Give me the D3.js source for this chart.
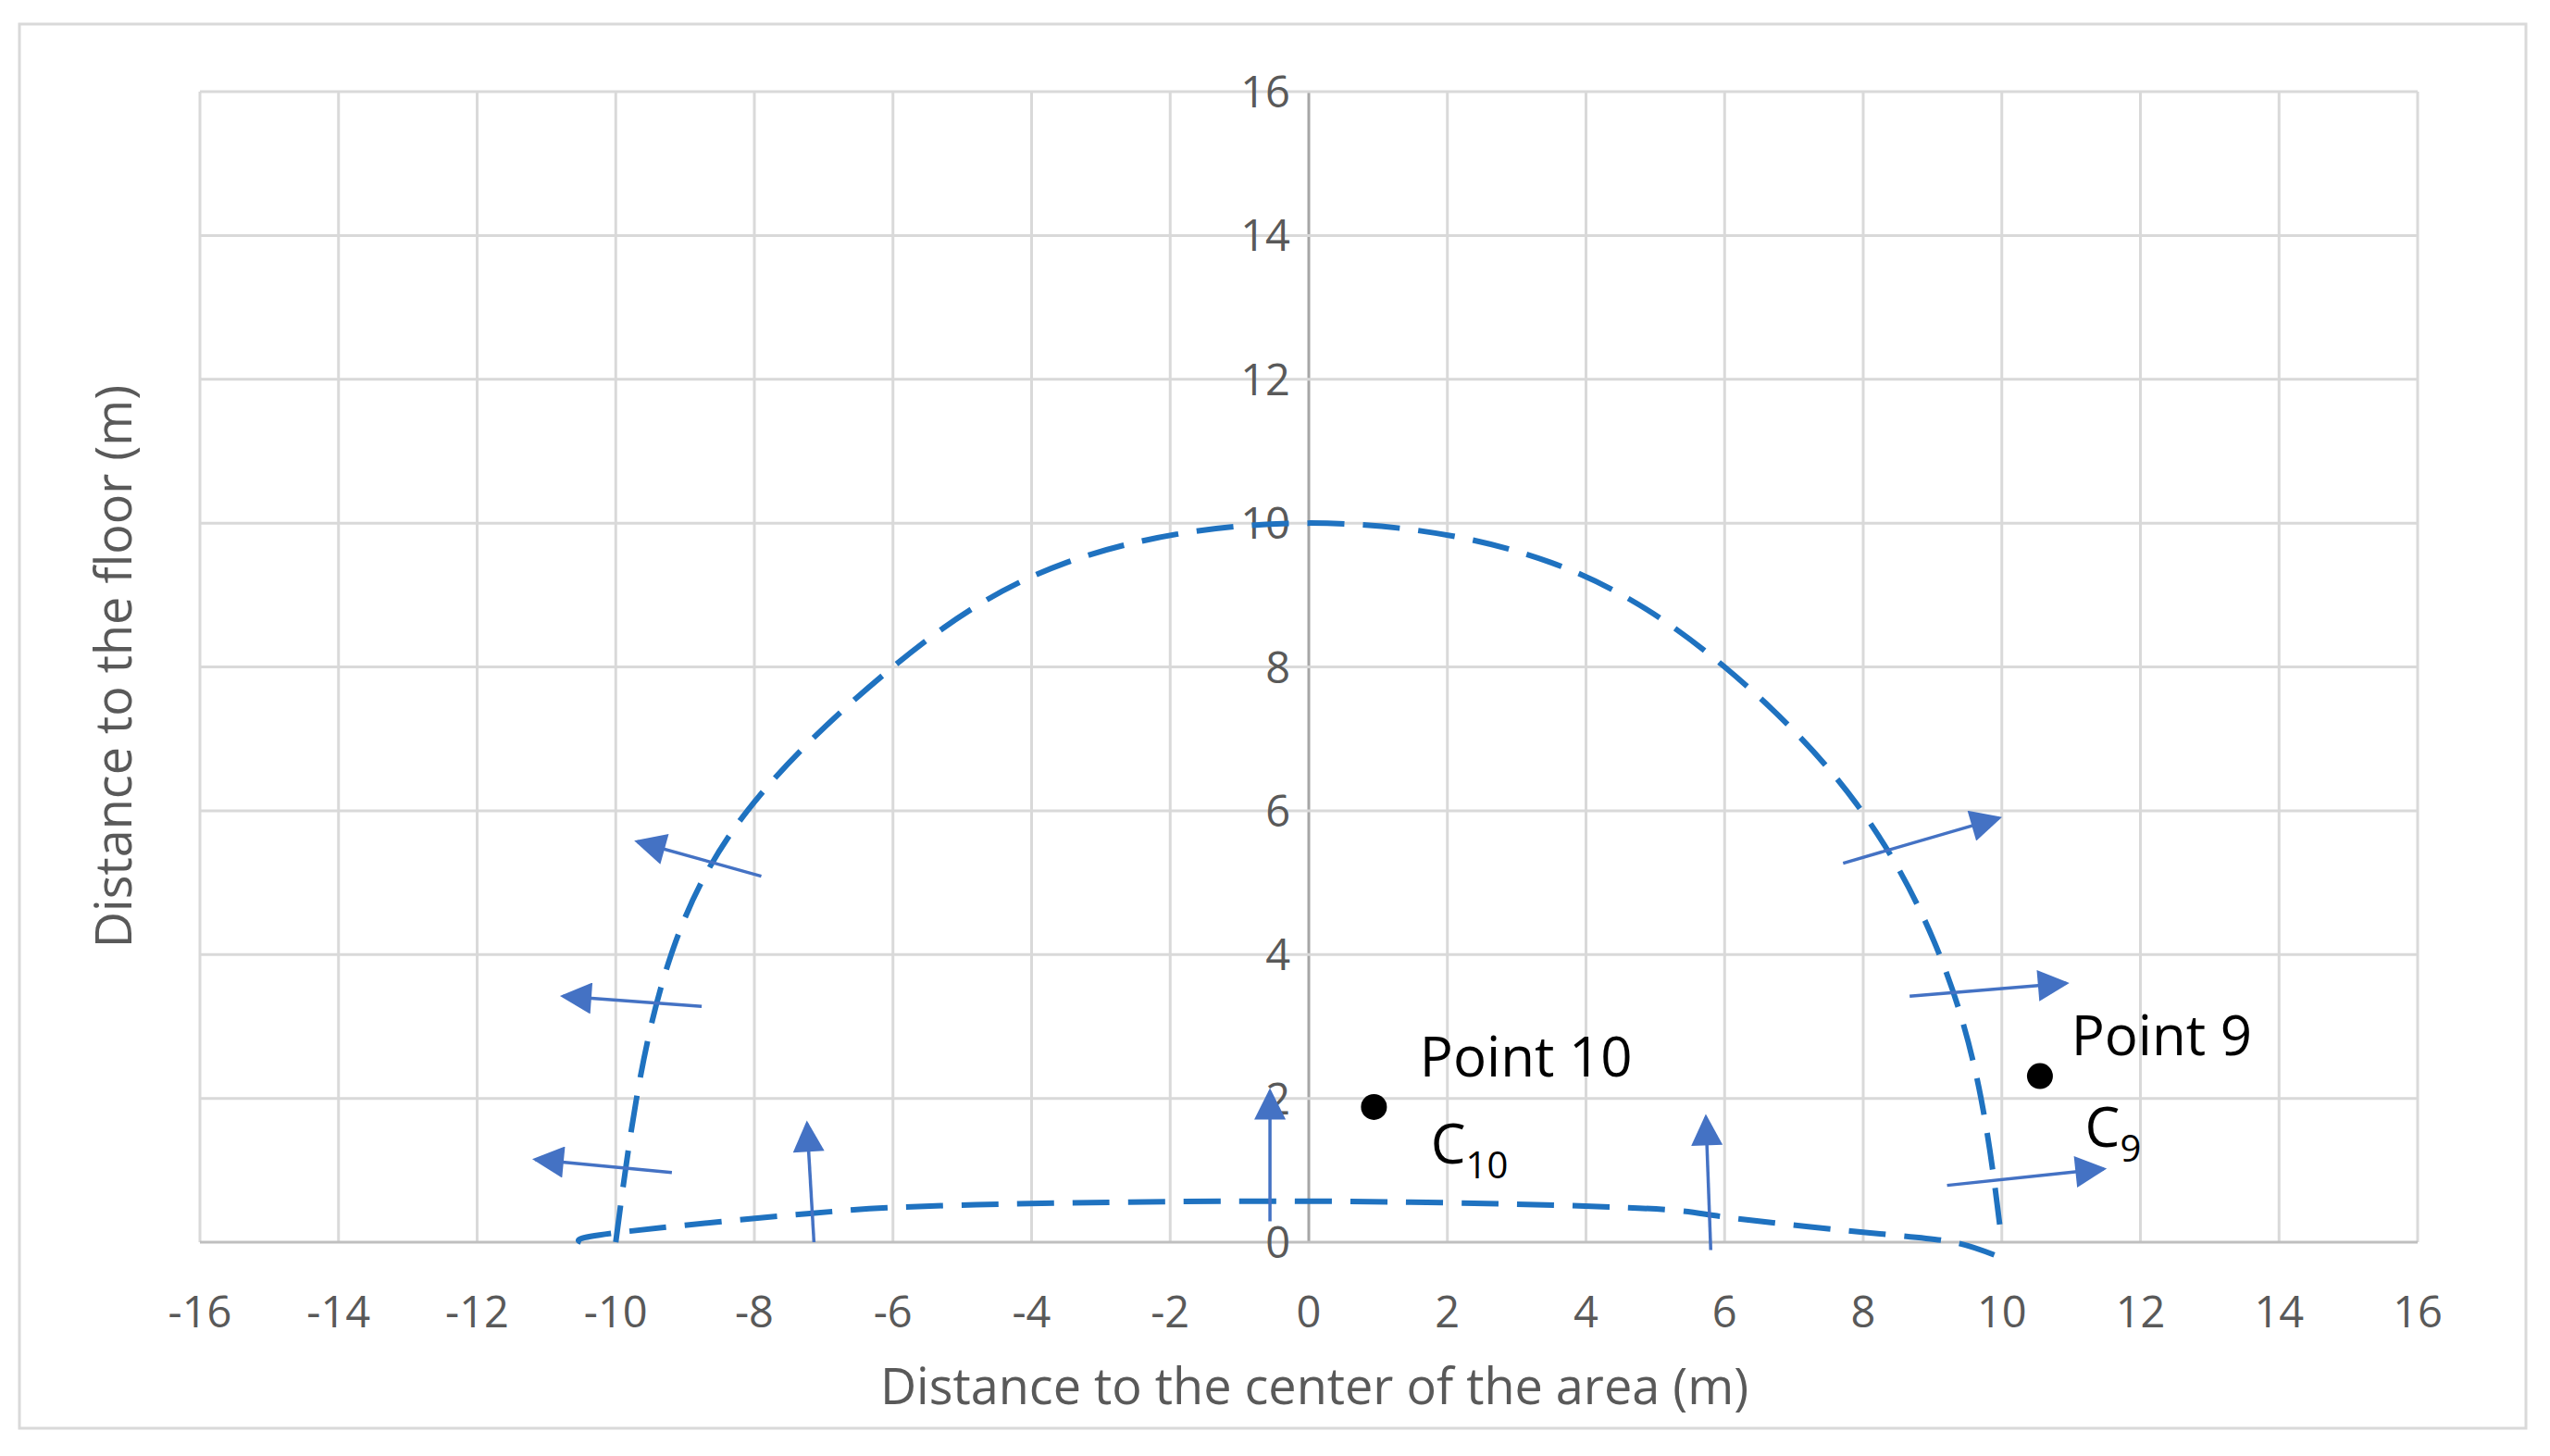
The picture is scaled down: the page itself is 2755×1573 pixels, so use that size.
<!DOCTYPE html>
<html><head><meta charset="utf-8">
<script src="https://cdn.jsdelivr.net/npm/d3@7"></script>
<style>body{margin:0;background:#fff}</style></head>
<body><svg id="c" width="2755" height="1573"></svg>
<script>
const xTicks = [-16,-14,-12,-10,-8,-6,-4,-2,0,2,4,6,8,10,12,14,16];
const yTicks = [0,2,4,6,8,10,12,14,16];
const upperArc = [[-10,0],[-9.7,2],[-9.2,4],[-8.1,6],[-6,8],[-3.5,9.45],[0,10],[3.5,9.45],[6,8],[7.9,6.1],[9.1,4],[9.7,2],[10,0]];
const lowerArc = [[-10.5,0],[-10,0.13],[-7.2,0.4],[-4.8,0.52],[0,0.57],[4.6,0.48],[6,0.35],[8.1,0.13],[9.3,0],[9.95,-0.2]];
const arrows = [
 [[-7.9,5.09],[-9.69,5.57]],
 [[-8.76,3.28],[-10.76,3.42]],
 [[-9.19,0.97],[-11.16,1.15]],
 [[-7.14,0],[-7.24,1.65]],
 [[-0.56,0.29],[-0.56,2.1]],
 [[5.8,-0.11],[5.73,1.74]],
 [[7.71,5.27],[9.96,5.9]],
 [[8.67,3.42],[10.93,3.6]],
 [[9.21,0.79],[11.47,1.02]]
];
const points = [{name:"Point 10",sub:"10",x:0.94,y:1.88,lx:1.6,ly:2.3,cx:1.76,cy:1.1},
                {name:"Point 9",sub:"9",x:10.55,y:2.31,lx:11.0,ly:2.6,cx:11.2,cy:1.32}];

const svg = d3.select("#c");
const x = d3.scaleLinear().domain([-16,16]).range([216,2612]);
const y = d3.scaleLinear().domain([0,16]).range([1342,99]);
const font = "'Open Sans', 'Noto Sans', sans-serif";

svg.append("rect").attr("x",21).attr("y",26).attr("width",2708).attr("height",1517)
  .attr("fill","none").attr("stroke","#d9d9d9").attr("stroke-width",3);

const g = svg.append("g");
g.selectAll(".vg").data(xTicks).join("line").attr("x1",d=>x(d)).attr("x2",d=>x(d))
  .attr("y1",y(0)).attr("y2",y(16)).attr("stroke",d=>d===0?"#a6a6a6":"#d9d9d9").attr("stroke-width",3);
g.selectAll(".hg").data(yTicks).join("line").attr("y1",d=>y(d)).attr("y2",d=>y(d))
  .attr("x1",x(-16)).attr("x2",x(16)).attr("stroke",d=>d===0?"#bfbfbf":"#d9d9d9").attr("stroke-width",3);

g.selectAll(".xt").data(xTicks).join("text").attr("x",d=>x(d)).attr("y",1434)
  .attr("text-anchor","middle").attr("font-family",font).attr("font-size",47).attr("fill","#595959").text(d=>d);
g.selectAll(".yt").data(yTicks).join("text").attr("x",x(0)-20).attr("y",d=>y(d)+17)
  .attr("text-anchor","end").attr("font-family",font).attr("font-size",47).attr("fill","#595959").text(d=>d);

svg.append("text").attr("x",1420).attr("y",1517).attr("text-anchor","middle").attr("font-family",font)
  .attr("font-size",54).attr("fill","#595959").text("Distance to the center of the area (m)");
svg.append("text").attr("transform","translate(142,720) rotate(-90)").attr("text-anchor","middle").attr("font-family",font)
  .attr("font-size",54).attr("fill","#595959").text("Distance to the floor (m)");

const line = d3.line().x(d=>x(d[0])).y(d=>y(d[1])).curve(d3.curveNatural);
[upperArc,lowerArc].forEach(a=>svg.append("path").attr("d",line(a)).attr("fill","none")
  .attr("stroke","#1f72c0").attr("stroke-width",6).attr("stroke-dasharray","40,20"));

svg.append("defs").append("marker").attr("id","ah").attr("viewBox","0 0 10 10").attr("refX",9).attr("refY",5)
  .attr("markerUnits","userSpaceOnUse").attr("orient","auto")
  .attr("markerWidth",40).attr("markerHeight",34)
  .append("path").attr("d","M0,0L10,5L0,10Z").attr("fill","#4472c4");
svg.selectAll(".ar").data(arrows).join("line").attr("x1",d=>x(d[0][0])).attr("y1",d=>y(d[0][1]))
  .attr("x2",d=>x(d[1][0])).attr("y2",d=>y(d[1][1])).attr("stroke","#4472c4").attr("stroke-width",3.5)
  .attr("marker-end","url(#ah)");

points.forEach(p=>{
  svg.append("circle").attr("cx",x(p.x)).attr("cy",y(p.y)).attr("r",14).attr("fill","#000");
  svg.append("text").attr("x",x(p.lx)).attr("y",y(p.ly)).attr("font-family",font).attr("font-size",60).attr("fill","#000").text(p.name);
  const t = svg.append("text").attr("x",x(p.cx)).attr("y",y(p.cy)).attr("font-family",font).attr("font-size",60).attr("fill","#000");
  t.append("tspan").text("C");
  t.append("tspan").attr("dy",16).attr("font-size",40).text(p.sub);
});
</script></body></html>
